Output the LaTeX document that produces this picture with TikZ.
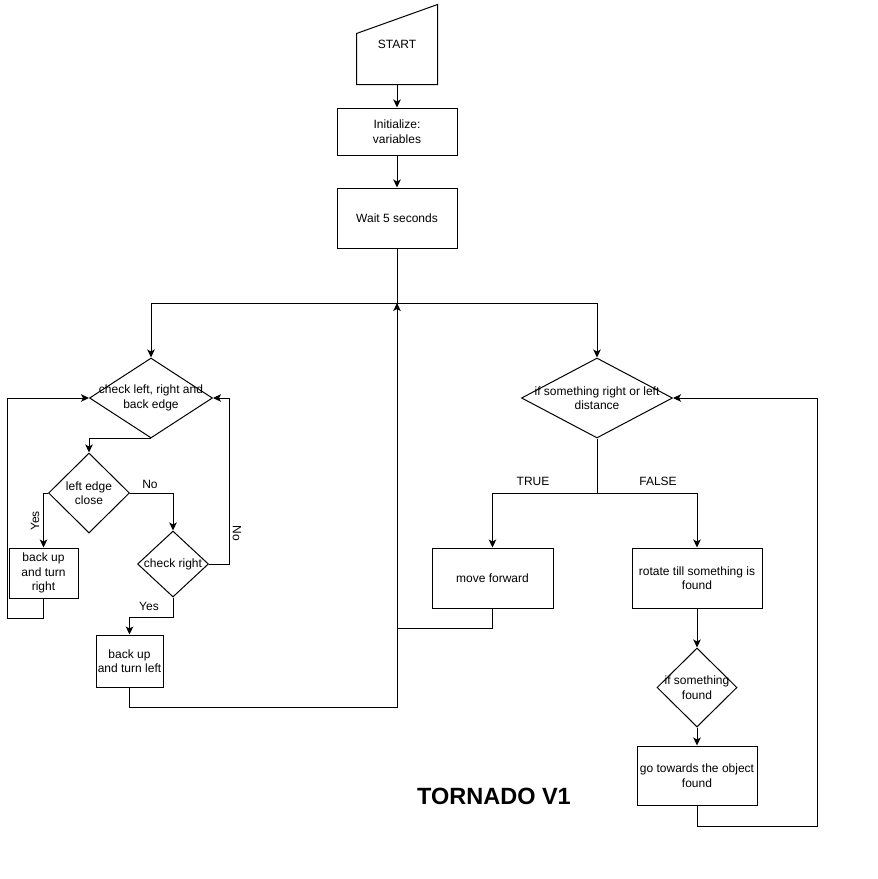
\documentclass[tikz,border=0pt]{standalone}
\usepackage{fontspec}
\setmainfont{Liberation Sans}
\usetikzlibrary{shapes.geometric,arrows.meta}

\begin{document}
\begin{tikzpicture}[x=1pt, y=-1pt, line width=1pt,
  every node/.style={font=\fontsize{12}{14.5}\selectfont},
  box/.style={draw, rectangle, align=center, inner sep=0pt},
  dia/.style={draw, diamond, inner sep=0pt},
  arr/.style={-{Stealth[length=8pt,width=7.5pt,inset=2pt]}}]
%\draw [help lines] (0,0) grid (878,879);
\useasboundingbox (0,0) rectangle (878,879);
\node [minimum width=80, minimum height=79, inner sep=0pt] (start) at (397,44.5) {START};
\draw (start.south west) -- (start.south east) -- (start.north east) -- ([yshift=-29pt]start.north west) -- cycle;
\node [box, minimum width=120, minimum height=47] (init) at (397,131.5) {Initialize:\\variables};
\node [box, minimum width=120, minimum height=60] (wait) at (397,218) {Wait 5 seconds};
\coordinate (split) at (397,303);
\node [dia, minimum width=123, minimum height=80, label={[align=center]center:{check left, right and\\back edge}}] (chkedge) at (151,398) {};
\node [dia, minimum width=81, minimum height=80, label={[align=center]center:{left edge\\close}}] (leftclose) at (89,493) {};
\node [box, minimum width=69, minimum height=50] (backright) at (43.5,573) {back up\\and turn\\right};
\node [dia, minimum width=71, minimum height=66, label={[align=center]center:{check right}}] (chkright) at (173,564) {};
\node [box, minimum width=67, minimum height=52] (backleft) at (129.5,661) {back up\\and turn left};
\node [dia, minimum width=151, minimum height=80, label={[align=center]center:{if something right or left\\distance}}] (chkobj) at (597,398) {};
\coordinate (fork) at (597,493);
\node [box, minimum width=121, minimum height=60] (fwd) at (492.5,578) {move forward};
\node [box, minimum width=130, minimum height=60] (rotate) at (697,578) {rotate till something is\\found};
\node [dia, minimum width=80, minimum height=79, label={[align=center]center:{if something\\found}}] (found) at (697,687.5) {};
\node [box, minimum width=120, minimum height=59] (towards) at (697,775.5) {go towards the object\\found};
% labels
\node [rotate=90] (yes1) at (35,521) {Yes};
\node (no1) at (150,484) {No};
\node [rotate=-90] (no2) at (237,533) {No};
\node (yes2) at (149,606) {Yes};
\node (true) at (533,481) {TRUE};
\node (false) at (658,481) {FALSE};
\node (title) at (494,796) {\fontsize{23.5}{28}\selectfont\bfseries TORNADO V1};
% connectors
\draw [arr] (start) -- (init);
\draw [arr] (init) -- (wait);
\draw (wait) -- (split);
\draw [arr] (split) -| (chkedge.north);
\draw [arr] (split) -| (chkobj.north);
\draw [arr] (chkedge.south) -| (leftclose.north);
\draw [arr] (leftclose.west) -| (backright.north);
\draw [arr] (backright.south) |- ++(-36,20) |- (chkedge.west);
\draw [arr] (leftclose.east) -| (chkright.north);
\draw [arr] (chkright.east) -- ++(20,0) |- (chkedge.east);
\draw [arr] (chkright.south) -- ++(0,20) -| (backleft.north);
\draw [arr] (backleft.south) -- ++(0,20) -| (split);
\draw (fwd.south) -- ++(0,20) -| (split);
\draw (chkobj.south) -- (fork);
\draw [arr] (fork) -| (fwd.north);
\draw [arr] (fork) -| (rotate.north);
\draw [arr] (rotate) -- (found);
\draw [arr] (found) -- (towards);
\draw [arr] (towards.south) |- ++(120,21) |- (chkobj.east);
\end{tikzpicture}
\end{document}
